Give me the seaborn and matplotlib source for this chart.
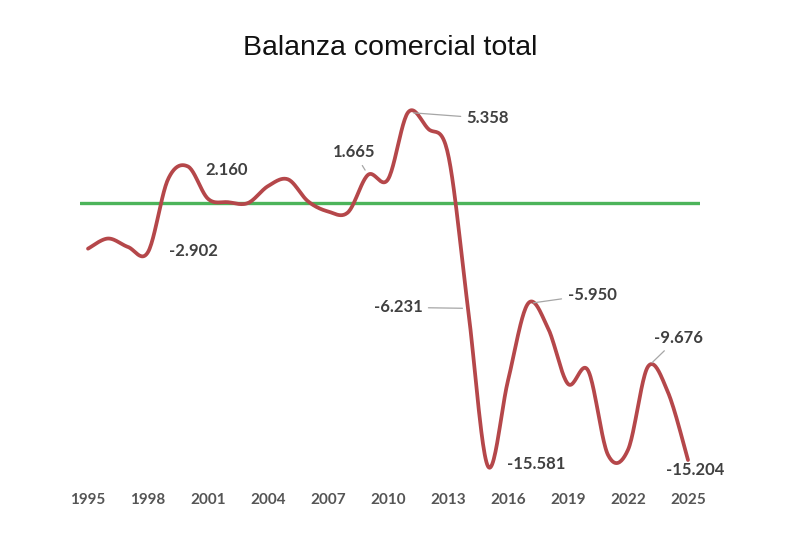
import numpy as np
import pandas as pd
import matplotlib
matplotlib.use("Agg")
import matplotlib.pyplot as plt
import seaborn as sns

# Balanza comercial total (yearly values)
years = list(range(1995, 2026))
balance = [-2.7, -2.1, -2.6, -2.902, 1.4, 2.160, 0.25, 0.05, 0.0, 1.0, 1.4,
           0.1, -0.5, -0.55, 1.665, 1.4, 5.358, 4.4, 2.9, -6.231, -15.581,
           -10.5, -5.950, -7.4, -10.7, -9.9, -14.9, -14.6, -9.676, -11.2, -15.204]

# which points carry a data label, and where the label sits (offset in pixels)
label_years = [1998, 2000, 2009, 2011, 2014, 2015, 2017, 2023, 2025]
label_offsets = [(45, 1), (39, -3), (-14, 23), (80, -6), (-70, 1), (48, 2), (64, 9), (30, 29), (7, -10)]
label_leader = [False, False, True, True, True, False, True, True, False]

tick_years = list(range(1995, 2026, 3))

RED = "#B5474A"
GREEN = "#4CB45A"


def smooth_curve(xs, ys, n=24):
    # Catmull-Rom spline, like Excel's "smoothed line"
    p = np.column_stack([xs, ys]).astype(float)
    p = np.vstack([p[0], p, p[-1]])
    t = np.linspace(0, 1, n, endpoint=False)[:, None]
    out = []
    for i in range(1, len(p) - 2):
        p0, p1, p2, p3 = p[i - 1], p[i], p[i + 1], p[i + 2]
        seg = 0.5 * (2 * p1 + (-p0 + p2) * t
                     + (2 * p0 - 5 * p1 + 4 * p2 - p3) * t ** 2
                     + (-p0 + 3 * p1 - 3 * p2 + p3) * t ** 3)
        out.append(seg)
    out.append(p[-2][None, :])
    out = np.vstack(out)
    return out[:, 0], out[:, 1]


sx, sy = smooth_curve(years, balance)
curve = pd.DataFrame({"year": sx, "value": sy})

sns.set_style("white")
plt.rcParams["font.family"] = ["Lato", "DejaVu Sans"]

fig = plt.figure(figsize=(8.12, 5.48), dpi=100)
ax = fig.add_axes([80 / 812, 1 - 475 / 548, 620 / 812, 380 / 548])

ax.axhline(0, color=GREEN, lw=2.4, zorder=1)
sns.lineplot(data=curve, x="year", y="value", sort=False, estimator=None,
             color=RED, lw=2.7, ax=ax, zorder=2)

ax.set_xlim(1994.6, 2025.6)
ax.set_ylim(-16.09, 6.39)
ax.set_xticks(tick_years)
ax.set_xticklabels([str(y) for y in tick_years], fontsize=11,
                   fontweight="bold", color="#555555")
ax.tick_params(axis="x", length=0, pad=13)
ax.set_yticks([])
ax.set_xlabel("")
ax.set_ylabel("")
for s in ax.spines.values():
    s.set_visible(False)

for yr, off, lead in zip(label_years, label_offsets, label_leader):
    val = balance[years.index(yr)]
    txt = f"{val:.3f}"
    props = dict(arrowstyle="-", color="#A6A6A6", lw=0.9, shrinkA=2, shrinkB=4) if lead else None
    ax.annotate(txt, xy=(yr, val), xytext=off, textcoords="offset pixels",
                ha="center", va="center", fontsize=12, fontweight="bold",
                color="#404040", arrowprops=props, zorder=3)

fig.text(390 / 812, 1 - 48 / 548, "Balanza comercial total", ha="center", va="center",
         fontsize=20.5, family=["Liberation Sans", "DejaVu Sans"], color="#111111")

fig.savefig("out.png", dpi=100)
